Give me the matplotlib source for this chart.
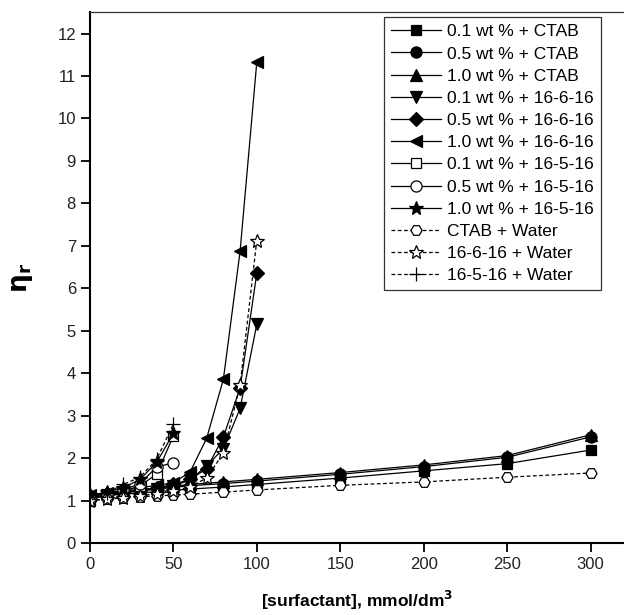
import matplotlib
matplotlib.use("Agg")
import matplotlib.pyplot as plt

plt.rcParams['font.family'] = ['Liberation Sans', 'DejaVu Sans']

x_ctab = [0, 10, 20, 30, 40, 50, 60, 80, 100, 150, 200, 250, 300]
y_01_ctab = [1.08, 1.12, 1.15, 1.18, 1.21, 1.24, 1.27, 1.32, 1.38, 1.53, 1.70, 1.87, 2.19]
y_05_ctab = [1.10, 1.15, 1.19, 1.23, 1.27, 1.31, 1.35, 1.40, 1.46, 1.62, 1.80, 2.02, 2.50]
y_10_ctab = [1.12, 1.17, 1.21, 1.25, 1.30, 1.34, 1.38, 1.44, 1.50, 1.66, 1.84, 2.06, 2.55]
y_ctab_water = [1.00, 1.04, 1.07, 1.09, 1.11, 1.13, 1.15, 1.20, 1.25, 1.36, 1.44, 1.55, 1.65]

x_666 = [0, 10, 20, 30, 40, 50, 60, 70, 80, 90, 100]
y_01_666 = [1.08, 1.13, 1.18, 1.23, 1.28, 1.35, 1.48, 1.82, 2.22, 3.17, 5.15]
y_05_666 = [1.10, 1.15, 1.20, 1.25, 1.30, 1.38, 1.50, 1.75, 2.50, 3.65, 6.35]
y_10_666 = [1.12, 1.18, 1.24, 1.30, 1.36, 1.42, 1.67, 2.47, 3.86, 6.87, 11.32]
y_666_water = [1.00, 1.03, 1.07, 1.11, 1.16, 1.22, 1.33, 1.53, 2.12, 3.72, 7.12]

x_565 = [0, 10, 20, 30, 40, 50]
y_01_565 = [1.00, 1.14, 1.22, 1.35, 1.62, 2.52]
y_05_565 = [1.05, 1.15, 1.25, 1.40, 1.79, 1.89]
y_10_565 = [1.12, 1.20, 1.30, 1.50, 1.90, 2.58]
y_565_water = [1.08, 1.18, 1.38, 1.55, 1.97, 2.80]

labels = ["0.1 wt % + CTAB", "0.5 wt % + CTAB", "1.0 wt % + CTAB",
          "0.1 wt % + 16-6-16", "0.5 wt % + 16-6-16", "1.0 wt % + 16-6-16",
          "0.1 wt % + 16-5-16", "0.5 wt % + 16-5-16", "1.0 wt % + 16-5-16",
          "CTAB + Water", "16-6-16 + Water", "16-5-16 + Water"]

series = [
    (x_ctab, y_01_ctab, 's', 'k', '-', 7),
    (x_ctab, y_05_ctab, 'o', 'k', '-', 8),
    (x_ctab, y_10_ctab, '^', 'k', '-', 9),
    (x_666, y_01_666, 'v', 'k', '-', 9),
    (x_666, y_05_666, 'D', 'k', '-', 7),
    (x_666, y_10_666, '<', 'k', '-', 9),
    (x_565, y_01_565, 's', 'w', '-', 7),
    (x_565, y_05_565, 'o', 'w', '-', 8),
    (x_565, y_10_565, '*', 'k', '-', 10),
    (x_ctab, y_ctab_water, 'H', 'w', '--', 8),
    (x_666, y_666_water, '*', 'w', '--', 10),
    (x_565, y_565_water, '+', 'k', '--', 10),
]

fig = plt.figure(figsize=(6.24, 6.15), dpi=100)
ax = fig.add_axes([0.144, 0.117, 0.856, 0.863])

for (xs, ys, m, fc, ls, ms), lab in zip(series, labels):
    ax.plot(xs, ys, linestyle=ls, color='k', linewidth=0.9, marker=m,
            markersize=ms, markerfacecolor=fc, markeredgecolor='k',
            markeredgewidth=0.9, label=lab,
            dashes=(3, 2) if ls == '--' else (None, None))

ax.set_xlim(0, 320)
ax.set_ylim(0, 12.5)
ax.set_xticks([0, 50, 100, 150, 200, 250, 300])
ax.set_yticks(range(0, 13))
ax.tick_params(direction='out', length=6.5, width=1.3, labelsize=12, colors='k',
               labelcolor='#222222')
for s in ['left', 'bottom']:
    ax.spines[s].set_linewidth(1.5)
ax.spines['top'].set_linewidth(0.9)
ax.spines['top'].set_color('#333333')
ax.spines['right'].set_visible(False)

ax.set_xlabel("[surfactant], mmol/dm$^\\mathbf{3}$", fontsize=12.5, fontweight='bold', labelpad=12)
ax.set_ylabel("$\\mathbf{\\eta}_{\\mathbf{r}}$", fontsize=19, labelpad=16)

leg = ax.legend(loc='upper right', bbox_to_anchor=(0.957, 0.9906), fontsize=12.5,
                frameon=True, fancybox=False, edgecolor='k', handlelength=2.9,
                labelspacing=0.405, borderpad=0.4, handletextpad=0.35,
                borderaxespad=0.0)
leg.get_frame().set_linewidth(0.9)

fig.savefig("out.png", dpi=100)
